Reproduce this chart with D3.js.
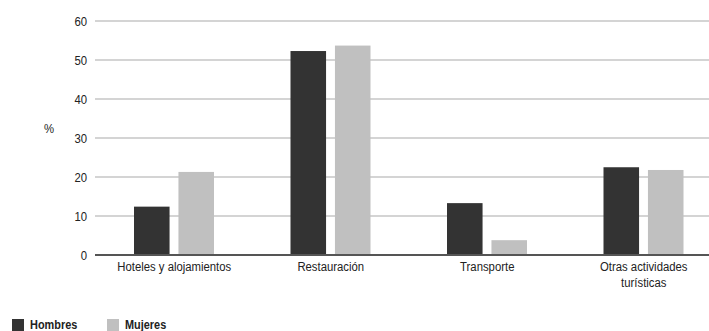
<!DOCTYPE html>
<html>
<head>
<meta charset="utf-8">
<script src="https://cdn.jsdelivr.net/npm/d3@7"></script>
<style>
  body { margin: 0; background: #fff; }
  svg { display: block; }
  text { font-family: 'Liberation Sans', Arial, sans-serif; fill: #222; }
</style>
</head>
<body>
<svg id="chart" width="709" height="331"></svg>
<script>
const categories = [['Hoteles y alojamientos'], ['Restauración'], ['Transporte'], ['Otras actividades', 'turísticas']];
const seriesNames = ['Hombres', 'Mujeres'];
const hombres = [12.4, 52.3, 13.3, 22.5];
const mujeres = [21.3, 53.7, 3.8, 21.8];
const yTicks = [0, 10, 20, 30, 40, 50, 60];
const colors = ['#333333', '#c0c0c0'];

const svg = d3.select('#chart');

// the original font is narrow, so squeeze text horizontally
const squeeze = 0.84;
const at = (px, py) => 'translate(' + px + ',' + py + ') scale(' + squeeze + ',1)';

const catKeys = categories.map(c => c.join(' '));

const x = d3.scaleBand()
    .domain(catKeys)
    .range([96, 722]);

const xSub = d3.scaleBand()
    .domain(seriesNames)
    .range([38, 118])
    .paddingInner(0.2);

const y = d3.scaleLinear()
    .domain([0, 60])
    .range([255, 21]);

// gridlines
svg.append('g')
    .selectAll('line')
    .data(yTicks.filter(t => t > 0))
    .enter()
    .append('line')
    .attr('x1', 95)
    .attr('x2', 709)
    .attr('y1', d => y(d))
    .attr('y2', d => y(d))
    .attr('stroke', '#d4d4d4')
    .attr('stroke-width', 2);

// y tick labels
svg.append('g')
    .selectAll('text')
    .data(yTicks)
    .enter()
    .append('text')
    .attr('transform', d => at(87, y(d)))
    .attr('dy', '0.38em')
    .attr('text-anchor', 'end')
    .style('font-size', '13.5px')
    .text(d => d);

svg.append('text')
    .attr('transform', at(49, 128))
    .attr('dy', '0.38em')
    .attr('text-anchor', 'middle')
    .style('font-size', '13.5px')
    .text('%');

// bars
const series = [hombres, mujeres];
series.forEach((vals, si) => {
    svg.append('g')
        .selectAll('rect')
        .data(vals)
        .enter()
        .append('rect')
        .attr('x', (d, i) => x(catKeys[i]) + xSub(seriesNames[si]))
        .attr('y', d => y(d))
        .attr('width', xSub.bandwidth())
        .attr('height', d => y(0) - y(d))
        .attr('fill', colors[si]);
});

// zero axis
svg.append('line')
    .attr('x1', 95)
    .attr('x2', 709)
    .attr('y1', y(0))
    .attr('y2', y(0))
    .attr('stroke', '#555')
    .attr('stroke-width', 2);

// category labels
const labels = svg.append('g')
    .selectAll('text')
    .data(categories)
    .enter()
    .append('text')
    .attr('transform', (d, i) => at(x(catKeys[i]) + x.bandwidth() / 2, 271))
    .attr('text-anchor', 'middle')
    .style('font-size', '13.5px');

labels.selectAll('tspan')
    .data(d => d)
    .enter()
    .append('tspan')
    .attr('x', 0)
    .attr('y', (d, j) => j * 16)
    .text(d => d);

// legend
const legendX = [12, 107];
seriesNames.forEach((name, i) => {
    svg.append('rect')
        .attr('x', legendX[i])
        .attr('y', 319)
        .attr('width', 12)
        .attr('height', 12)
        .attr('fill', colors[i]);
    svg.append('text')
        .attr('transform', at(legendX[i] + 18, 329))
        .style('font-size', '13px')
        .style('font-weight', 'bold')
        .text(name);
});
</script>
</body>
</html>
